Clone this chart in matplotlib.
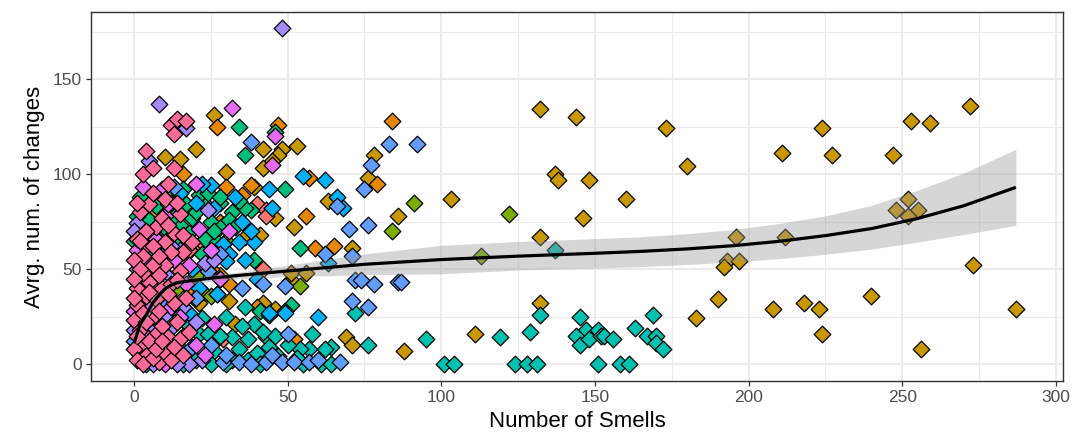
import matplotlib
matplotlib.use('Agg')
import matplotlib.pyplot as plt
from matplotlib.ticker import MultipleLocator

plt.rcParams['font.family'] = ['Liberation Sans', 'DejaVu Sans']

# points per project (number of smells, avg. number of changes)
gold_pts = [(132, 134), (144, 130), (173, 124), (224, 124), (253, 128), (259, 127), (272, 136),
            (211, 111), (227, 110), (247, 110), (180, 104), (137, 100), (138, 97), (148, 97),
            (146, 77), (160, 87), (103, 87), (132, 67), (196, 67), (212, 67), (193, 54),
            (197, 54), (192, 51), (252, 87), (248, 81), (255, 81), (252, 78), (273, 52),
            (287, 29), (208, 29), (218, 32), (223, 29), (224, 16), (240, 36), (256, 8),
            (190, 34), (183, 24), (111, 16), (88, 7), (132, 32), (86, 78), (78, 110), (76, 98),
            (71, 61), (69, 14), (71, 10), (42, 32), (46, 29), (31, 33), (23, 37), (21, 32),
            (51, 44), (51, 48), (56, 48), (52, 72), (63, 86), (46, 77), (41, 68), (36, 67),
            (53, 115), (42, 113), (48, 113), (47, 110), (45, 107), (42, 103), (30, 101),
            (26, 131), (20, 113), (10, 109), (15, 108), (6, 79), (33, 21), (39, 93), (17, 58),
            (8, 30), (28, 47), (3, 65)]
orange_pts = [(27, 125), (47, 126), (84, 128), (79, 95), (57, 98), (56, 78), (59, 61), (65, 62),
              (30, 93), (16, 100), (52, 13), (22, 62), (28, 75), (12, 66), (35, 89), (38, 94),
              (25, 50), (18, 40), (8, 55), (31, 42), (40, 30)]
salmon_pts = [(40, 84), (43, 81), (42, 50), (26, 69), (29, 13), (18, 60), (15, 55), (43, 78),
              (22, 64), (11, 80), (6, 45)]
olive_pts = [(91, 85), (122, 79), (113, 57), (84, 70), (54, 41), (20, 47), (25, 36), (14, 40),
             (30, 65), (10, 48)]
green_pts = [(34, 125), (46, 122), (36, 110), (49, 92), (54, 61), (39, 55), (51, 31), (41, 28),
             (7, 83), (17, 84), (23, 84), (28, 85), (32, 80), (38, 81), (9, 73), (15, 73),
             (19, 77), (25, 75), (29, 73), (23, 66), (27, 64), (36, 82), (12, 88), (21, 89),
             (3, 70), (5, 76), (13, 78), (18, 69), (31, 76), (24, 90), (28, 88), (16, 92),
             (34, 86), (20, 80), (10, 90), (14, 62), (6, 58), (2, 88), (8, 65), (26, 70),
             (11, 70), (1, 78), (0, 65), (33, 72), (22, 58)]
teal_pts = [(101, 0), (104, 0), (124, 0), (128, 0), (131, 0), (95, 13), (119, 14), (129, 17),
            (132, 26), (137, 60), (145, 25), (147, 18), (144, 15), (145, 10), (148, 13),
            (151, 18), (152, 15), (153, 15), (156, 13), (151, 0), (158, 0), (161, 0), (163, 19),
            (169, 26), (167, 15), (170, 15), (170, 11), (172, 8), (76, 10), (72, 27), (58, 16),
            (64, 9), (62, 8), (57, 8), (54, 8), (55, 0), (61, 0), (64, 0), (43, 14), (46, 15),
            (44, 9), (39, 21), (38, 2), (44, 26), (42, 17), (49, 28), (28, 45), (27, 37),
            (22, 24), (21, 16), (24, 16), (32, 14), (37, 13), (26, 7), (32, 2), (37, 2), (40, 6),
            (47, 4), (50, 10), (35, 20), (30, 25), (18, 20), (12, 30), (20, 2), (16, 0), (25, 0),
            (30, 0), (34, 8), (53, 3), (41, 0), (36, 30), (8, 12), (4, 0), (28, 15)]
cyan_pts = [(55, 99), (62, 97), (66, 88), (68, 82), (45, 82), (44, 92), (60, 25), (63, 53),
            (49, 27), (44, 27), (39, 64), (29, 63), (34, 64), (31, 58), (30, 54), (19, 50),
            (27, 37), (18, 27), (12, 85), (20, 85), (25, 94), (9, 57), (15, 90), (38, 70),
            (22, 95), (35, 75), (33, 88), (8, 35), (26, 82), (36, 55), (21, 40), (14, 10),
            (40, 45), (3, 25)]
blue_pts = [(38, 117), (83, 116), (92, 116), (77, 105), (75, 92), (66, 83), (70, 71), (76, 73),
            (62, 58), (71, 57), (72, 44), (74, 44), (78, 42), (86, 43), (87, 43), (42, 42),
            (49, 41), (71, 33), (76, 30), (50, 16), (43, 1), (48, 1), (52, 1), (67, 1), (24, 49),
            (19, 9), (9, 7), (29, 1), (13, 93), (35, 40), (30, 5), (57, 1), (60, 2), (34, 1),
            (38, 0), (20, 35), (5, 28), (15, 60), (2, 38), (25, 10), (45, 5), (28, 58), (0, 12),
            (10, 30)]
purple_pts = [(8, 137), (48, 177), (17, 124), (5, 107), (1, 74), (24, 81), (23, 53), (26, 55),
              (1, 50), (11, 46), (9, 42), (10, 26), (12, 19), (14, 7), (18, 0), (14, 0), (5, 20),
              (3, 10), (2, 60), (7, 35), (0, 18), (1, 45), (6, 0), (20, 22), (16, 30), (4, 55),
              (22, 2), (0, 70), (12, 62)]
magenta_pts = [(32, 135), (46, 120), (45, 105), (3, 93), (9, 92), (20, 95), (10, 78), (21, 71),
               (31, 70), (13, 55), (3, 46), (17, 42), (5, 31), (15, 25), (26, 21), (23, 5),
               (7, 66), (11, 84), (4, 15), (20, 10), (8, 50), (1, 60), (12, 30), (18, 52),
               (25, 60), (6, 40), (2, 5), (16, 15), (10, 0), (28, 45), (0, 28)]
pink_pts = [(12, 126), (14, 129), (17, 128), (13, 121), (4, 112), (13, 103), (5, 84), (15, 79),
            (13, 69), (4, 62), (10, 64), (16, 59), (19, 64), (12, 59), (3, 57), (10, 52), (6, 52),
            (15, 49), (5, 43), (4, 36), (13, 32), (1, 31), (0, 23), (7, 16), (11, 14), (15, 13),
            (4, 5), (8, 1), (10, 6), (2, 10), (6, 25), (9, 40), (1, 40), (3, 48), (0, 55), (7, 72),
            (2, 80), (6, 90), (11, 95), (1, 66), (8, 47), (12, 42), (2, 18), (5, 12), (9, 20),
            (14, 22), (3, 27), (7, 34), (11, 37), (0, 8), (1, 2), (3, 0), (6, 3), (12, 2), (16, 5),
            (2, 50), (6, 62), (9, 77), (4, 70), (8, 57), (14, 44), (0, 45), (5, 38), (1, 15),
            (7, 8), (17, 35), (8, 28), (10, 87), (3, 100), (1, 85), (14, 85), (11, 73), (16, 68),
            (6, 103), (18, 17), (9, 12), (0, 35), (2, 65), (4, 22), (13, 9)]

# loess fit
smooth_x = [0, 1, 2, 4, 6, 8, 10, 12, 14, 18, 25, 35, 50, 75, 100, 125, 150, 165, 180, 195,
            210, 225, 240, 255, 270, 287]
smooth_y = [11, 16, 21, 26, 32, 36, 39.5, 41.5, 42.8, 43.8, 45.2, 46.8, 49, 52.5, 55, 56.8,
            58.3, 59.3, 60.6, 62.3, 64.6, 67.6, 71.3, 76.6, 83.3, 93]
smooth_lo = [6, 12, 18, 23, 29, 33.5, 37.5, 39.8, 41, 42, 43.5, 45, 46, 47, 47.5, 49.5, 50.5,
             51.3, 52.4, 53.7, 55.5, 57.8, 60.5, 64.2, 68.2, 73]
smooth_hi = [16, 20, 24, 29, 35, 38.5, 41.5, 43.2, 44.6, 45.6, 47, 48.6, 52, 58, 62.5, 64.5, 66,
             67, 68.6, 70.8, 74, 78, 83.5, 91.5, 100.5, 113]

groups = [
    (gold_pts, '#C99800'),
    (orange_pts, '#E58700'),
    (salmon_pts, '#F8766D'),
    (olive_pts, '#7CAE00'),
    (green_pts, '#00BF7D'),
    (teal_pts, '#00C0AF'),
    (cyan_pts, '#00B0F6'),
    (blue_pts, '#619CFF'),
    (purple_pts, '#A58AFF'),
    (magenta_pts, '#E76BF3'),
    (pink_pts, '#FF6A98'),
]

fig = plt.figure(figsize=(10.75, 4.43), dpi=100)
ax = fig.add_axes([0.0847, 0.14, 0.904, 0.833])

for pts, col in groups:
    xs = [p[0] for p in pts]
    ys = [p[1] for p in pts]
    ax.scatter(xs, ys, marker='D', s=72, c=col, edgecolors='black', linewidths=0.9, zorder=3)

ax.fill_between(smooth_x, smooth_lo, smooth_hi, color='#999999', alpha=0.4, lw=0, zorder=4)
ax.plot(smooth_x, smooth_y, color='black', lw=2.3, zorder=5, solid_capstyle='butt')

ax.set_xlim(-14, 302.3)
ax.set_ylim(-8.9, 185.3)
ax.xaxis.set_major_locator(MultipleLocator(50))
ax.xaxis.set_minor_locator(MultipleLocator(25))
ax.yaxis.set_major_locator(MultipleLocator(50))
ax.yaxis.set_minor_locator(MultipleLocator(25))
ax.grid(which='major', color='#EBEBEB', lw=1.5, zorder=0)
ax.grid(which='minor', color='#EBEBEB', lw=0.8, zorder=0)
ax.set_axisbelow(True)
ax.tick_params(which='minor', length=0)
ax.tick_params(which='major', length=3.5, width=0.9, color='#333333', labelcolor='#4D4D4D',
               labelsize=12.5, pad=3)
for sp in ax.spines.values():
    sp.set_color('#333333')
    sp.set_linewidth(1.0)

ax.set_xlabel('Number of Smells', fontsize=16, labelpad=4)
ax.set_ylabel('Avrg. num. of changes', fontsize=16, labelpad=6)

fig.savefig('out.png', dpi=100, facecolor='white')
